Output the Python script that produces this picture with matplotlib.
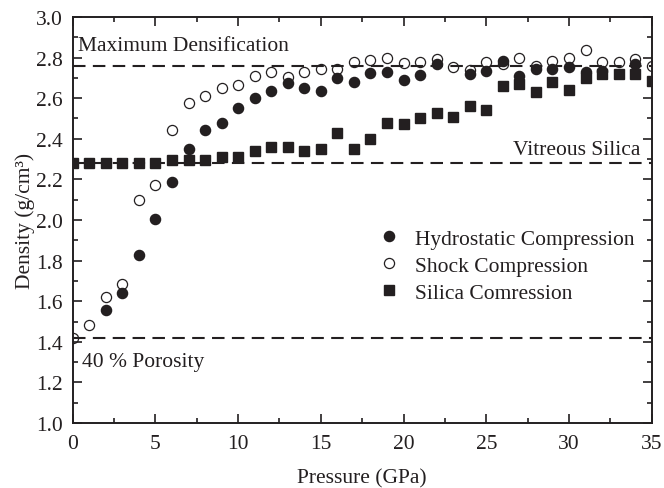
import matplotlib
matplotlib.use("Agg")
from matplotlib import pyplot as plt
from matplotlib.ticker import MultipleLocator

plt.rcParams.update({
    "font.family": "Liberation Serif",
    "font.size": 15.5,
    "lines.scale_dashes": False,
})

# hydrostatic compression (filled circles)
hydro_p = [2, 3, 4, 5, 6, 7, 8, 9, 10, 11, 12, 13, 14, 15, 16, 17, 18, 19, 20,
           21, 22, 24, 25, 26, 27, 28, 29, 30, 31, 32, 34]
hydro_d = [1.555, 1.642, 1.828, 2.005, 2.187, 2.35, 2.443, 2.476, 2.55, 2.60,
           2.634, 2.673, 2.652, 2.637, 2.70, 2.681, 2.724, 2.728, 2.69, 2.716,
           2.768, 2.719, 2.735, 2.785, 2.711, 2.744, 2.744, 2.752, 2.728, 2.735,
           2.77]

# shock compression (open circles)
shock_p = [0, 1, 2, 3, 4, 5, 6, 7, 8, 9, 10, 11, 12, 13, 14, 15, 16, 17, 18,
           19, 20, 21, 22, 23, 24, 25, 26, 27, 28, 29, 30, 31, 32, 33, 34, 35]
shock_d = [1.417, 1.482, 1.62, 1.685, 2.10, 2.174, 2.443, 2.576, 2.609, 2.649,
           2.665, 2.711, 2.728, 2.706, 2.728, 2.742, 2.745, 2.78, 2.79, 2.80,
           2.772, 2.777, 2.793, 2.752, 2.74, 2.78, 2.768, 2.80, 2.76, 2.785,
           2.80, 2.836, 2.777, 2.777, 2.793, 2.76]

# silica compression (squares)
silica_p = list(range(0, 36))
silica_d = [2.28, 2.28, 2.28, 2.28, 2.28, 2.28, 2.296, 2.296, 2.296, 2.312,
            2.312, 2.338, 2.36, 2.36, 2.338, 2.35, 2.429, 2.35, 2.399, 2.479,
            2.471, 2.501, 2.529, 2.509, 2.56, 2.54, 2.662, 2.67, 2.632, 2.681,
            2.64, 2.70, 2.719, 2.719, 2.719, 2.683]

# reference levels
ref_levels = [2.76, 2.28, 1.42]

ink = "#231f20"

fig = plt.figure(figsize=(6.64, 4.89), dpi=100)
ax = fig.add_axes([0.1095, 0.1329, 0.872, 0.8303])

for lvl in ref_levels:
    ax.axhline(lvl, color=ink, lw=1.5, dashes=(9, 5.3), zorder=1)

ax.plot(shock_p, shock_d, "o", ms=7.3, mfc="none", mec=ink, mew=0.9,
        label="Shock Compression", zorder=3)
ax.plot(hydro_p, hydro_d, "o", ms=7.3, color=ink, mec=ink,
        label="Hydrostatic Compression", zorder=4)
ax.plot(silica_p, silica_d, "s", ms=6.5, color=ink, mec=ink,
        label="Silica Comression", zorder=4)

ax.set_xlim(0, 35)
ax.set_ylim(1.0, 3.0)
ax.xaxis.set_major_locator(MultipleLocator(5))
ax.xaxis.set_minor_locator(MultipleLocator(2.5))
ax.yaxis.set_major_locator(MultipleLocator(0.2))
ax.yaxis.set_minor_locator(MultipleLocator(0.1))
ax.tick_params(which="both", direction="in", top=True, right=True,
               colors=ink, width=1.2)
ax.tick_params(which="major", length=6.5, pad=7)
ax.tick_params(which="minor", length=3.5)
ax.tick_params(axis="x", which="major", pad=8)
for s in ax.spines.values():
    s.set_linewidth(1.4)
    s.set_color(ink)

ax.set_xlabel("Pressure (GPa)", color=ink, labelpad=11)
ax.set_ylabel("Density (g/cm³)", color=ink, labelpad=1)

ax.text(0.35, 2.86, "Maximum Densification", color=ink, va="center")
ax.text(34.3, 2.345, "Vitreous Silica", color=ink, va="center", ha="right")
ax.text(0.55, 1.305, "40 % Porosity", color=ink, va="center")

h, l = ax.get_legend_handles_labels()
order = [1, 0, 2]
ax.legend([h[i] for i in order], [l[i] for i in order], loc="upper left",
          bbox_to_anchor=(0.491, 0.526), frameon=False, handletextpad=0.6,
          labelspacing=0.32, handlelength=1.2, labelcolor=ink)

fig.savefig("out.png", dpi=100)
